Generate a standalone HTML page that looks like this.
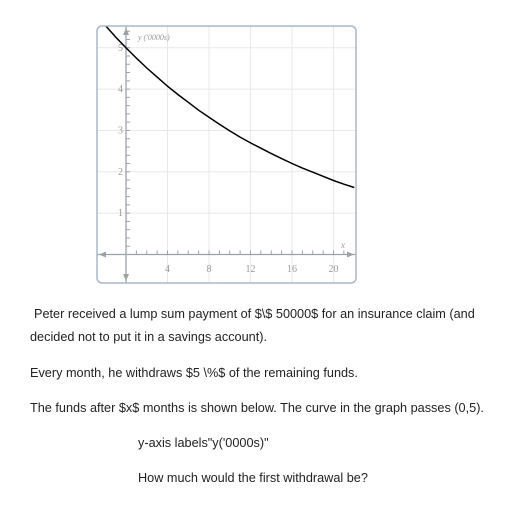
<!DOCTYPE html>
<html><head><meta charset="utf-8"><style>
body{margin:0;width:512px;height:512px;background:#fff;overflow:hidden;font-family:"Liberation Sans",sans-serif;color:#222}
.t{position:absolute;font-size:12.7px;white-space:nowrap;letter-spacing:0px}
</style></head><body>
<svg id="c" width="512" height="300" style="position:absolute;left:0;top:0"></svg>
<div class="t" style="left:34px;top:307px">Peter received a lump sum payment of $\$ 50000$ for an insurance claim (and</div>
<div class="t" style="left:30px;top:330px">decided not to put it in a savings account).</div>
<div class="t" style="left:30px;top:366px">Every month, he withdraws $5 \%$ of the remaining funds.</div>
<div class="t" style="left:30px;top:401px">The funds after $x$ months is shown below. The curve in the graph passes (0,5).</div>
<div class="t" style="left:138px;top:436px">y-axis labels"y('0000s)"</div>
<div class="t" style="left:138px;top:471px">How much would the first withdrawal be?</div>
<script>
const xTicks=[4,8,12,16,20];
const yTicks=[1,2,3,4,5];
const curveX=[-3,-2,-1,0,1,2,3,4,5,6,7,8,9,10,11,12,13,14,15,16,17,18,19,20,21,22];
const curveY=[5.83,5.54,5.26,5,4.75,4.51,4.29,4.07,3.87,3.68,3.49,3.32,3.15,2.99,2.84,2.70,2.57,2.44,2.32,2.20,2.09,1.99,1.89,1.79,1.70,1.62];
const ns="http://www.w3.org/2000/svg",svg=document.getElementById('c');
const X=v=>126+v*10.375, Y=v=>254.5-v*41.35;
function el(t,a,p){const e=document.createElementNS(ns,t);for(const k in a)e.setAttribute(k,a[k]);(p||svg).appendChild(e);return e;}
const cp=el('clipPath',{id:'cl'});el('rect',{x:97,y:26,width:259,height:257,rx:5},cp);
const g=el('g',{'clip-path':'url(#cl)'});

for(let v=4;v<=20;v+=4){const l=el('line',{x1:X(v),x2:X(v),y1:26,y2:283,stroke:'#e8e8e8','stroke-width':1},g);}
for(let v=1;v<=5;v+=1){const l=el('line',{x1:97,x2:356,y1:Y(v),y2:Y(v),stroke:'#e8e8e8','stroke-width':1},g);}
el('line',{x1:97,x2:356,y1:Y(0),y2:Y(0),stroke:'#9aa4a8','stroke-width':1.3},g);
el('line',{x1:X(0),x2:X(0),y1:26,y2:283,stroke:'#9aa4a8','stroke-width':1.3},g);
el('path',{d:`M99 ${Y(0)} l7 -3 v6z M354 ${Y(0)} l-7 -3 v6z M${X(0)} 28 l-3 7 h6z M${X(0)} 281 l-3 -7 h6z`,fill:'#9aa4a8'},g);
for(let v=1;v<=21;v++){el('line',{x1:X(v),x2:X(v),y1:Y(0)-4,y2:Y(0),stroke:'#9aa4a8'},g);}
for(let v=0.2;v<5.8;v+=0.2){el('line',{x1:X(0),x2:X(0)+4,y1:Y(v),y2:Y(v),stroke:'#9aa4a8'},g);}
xTicks.forEach(v=>{const t=el('text',{x:X(v),y:272,'text-anchor':'middle','font-size':10,fill:'#999','font-family':'Liberation Serif'},g);t.textContent=v;});
yTicks.forEach(v=>{const t=el('text',{x:X(0)-3,y:Y(v)+3,'text-anchor':'end','font-size':10,fill:'#999','font-family':'Liberation Serif'},g);t.textContent=v;});
let t=el('text',{x:138,y:40,'font-size':8,fill:'#999','font-style':'italic','font-family':'Liberation Serif'},g);t.textContent="y ('0000s)";

t=el('text',{x:341,y:248,'font-size':9,fill:'#999','font-style':'italic','font-family':'Liberation Serif'},g);t.textContent='x';

const p=el('path',{d:curveX.map((x,i)=>(i?'L':'M')+X(x).toFixed(1)+' '+Y(curveY[i]).toFixed(1)).join(' '),fill:'none',stroke:'#000','stroke-width':1.5},g);

const b=el('rect',{x:97,y:26,width:259,height:257,rx:5,fill:'none',stroke:'#a9b8c8','stroke-width':1.5});

</script>
</body></html>
